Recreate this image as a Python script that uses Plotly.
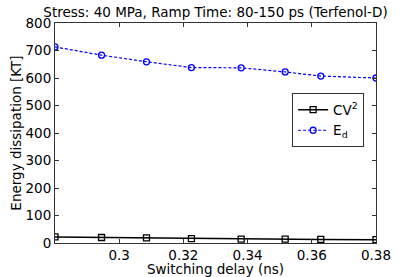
import plotly.graph_objects as go

delay = [0.28, 0.2945, 0.3085, 0.3225, 0.338, 0.3517, 0.3628, 0.38]
cv2 = [22, 20, 19, 16, 14, 14, 13, 12]
ed = [713, 683, 659, 638, 637, 622, 607, 600]

xticks = [0.3, 0.32, 0.34, 0.36, 0.38]
yticks = [0, 100, 200, 300, 400, 500, 600, 700, 800]

FS = 13.5
FONT = "DejaVu Sans"

fig = go.Figure()
fig.add_trace(go.Scatter(
    x=delay, y=cv2, name="CV<sup>2</sup>", mode="lines+markers",
    line=dict(color="black", width=1.5),
    marker=dict(symbol="square-open", size=6, color="black", line=dict(width=1.3)),
))
fig.add_trace(go.Scatter(
    x=delay, y=ed, name="E<sub>d</sub>", mode="lines+markers",
    line=dict(color="blue", width=1.2, dash="3px,2px"),
    marker=dict(symbol="circle-open", size=6, color="blue", line=dict(width=1.3)),
))

axis_common = dict(
    showline=True, linecolor="#333", linewidth=1, mirror="ticks",
    ticks="inside", ticklen=4, tickcolor="#333", showgrid=False, zeroline=False,
    automargin=False,
    tickfont=dict(size=FS, color="black", family=FONT),
)
fig.update_xaxes(range=[0.28, 0.38], tickvals=xticks, ticktext=[str(t) for t in xticks],
                 title=dict(text="Switching delay (ns)", standoff=0,
                            font=dict(size=FS, color="black", family=FONT)),
                 **axis_common)
fig.update_yaxes(range=[0, 800], tickvals=yticks,
                 title=dict(text="Energy dissipation [KT]", standoff=0,
                            font=dict(size=FS, color="black", family=FONT)),
                 **axis_common)

fig.update_layout(
    width=415, height=277,
    margin=dict(l=55, r=39, t=23, b=34),
    paper_bgcolor="white", plot_bgcolor="white",
    title=dict(text="Stress: 40 MPa, Ramp Time: 80-150 ps (Terfenol-D)",
               xref="paper", x=0.5, xanchor="center", y=0.957, yanchor="middle",
               font=dict(size=FS, color="black", family=FONT)),
    font=dict(family=FONT, color="black"),
    legend=dict(x=0.963, y=0.68, xanchor="right", yanchor="top",
                bordercolor="#333", borderwidth=1, bgcolor="white",
                font=dict(size=FS, color="black"), itemwidth=30,
                tracegroupgap=0),
    showlegend=True,
)

fig.write_html("out.html", config={"displayModeBar": False},
               post_script="document.body.style.margin='0';")
